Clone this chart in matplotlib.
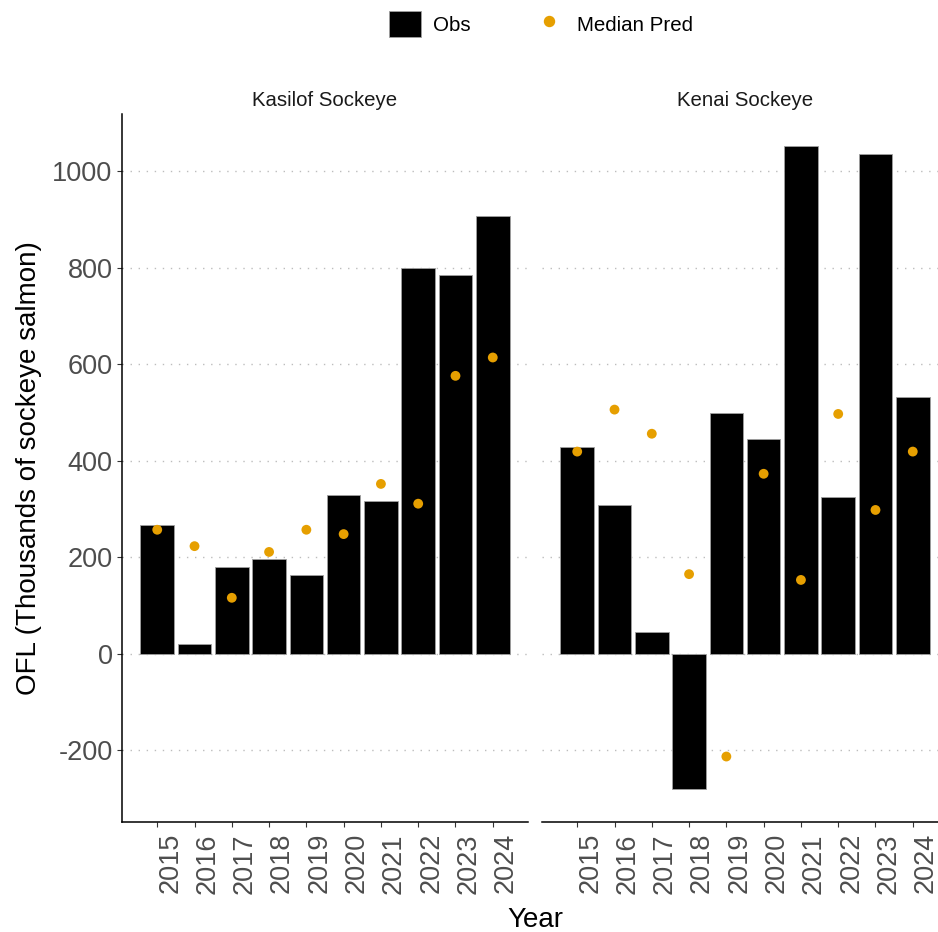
import numpy as np
import matplotlib.pyplot as plt
import matplotlib.transforms as mtransforms
from matplotlib.patches import Patch
from matplotlib.lines import Line2D

plt.rcParams['font.family'] = ['Liberation Sans', 'DejaVu Sans']
plt.rcParams['axes.unicode_minus'] = False

# data (thousands of sockeye salmon)
years = [2015, 2016, 2017, 2018, 2019, 2020, 2021, 2022, 2023, 2024]
stocks = ['Kasilof Sockeye', 'Kenai Sockeye']
kasilof_obs = [266, 21, 179, 196, 163, 328, 317, 799, 786, 907]
kasilof_pred = [257, 223, 116, 211, 257, 248, 352, 311, 576, 614]
kenai_obs = [429, 308, 46, -281, 499, 445, 1052, 324, 1035, 533]
kenai_pred = [419, 506, 456, 165, -213, 373, 153, 497, 298, 419]
y_breaks = [-200, 0, 200, 400, 600, 800, 1000]

obs = [kasilof_obs, kenai_obs]
pred = [kasilof_pred, kenai_pred]

bar_w = 0.9
pred_col = '#E69F00'
tick_col = '#4D4D4D'

fig = plt.figure(figsize=(9.38, 9.32), dpi=100)
W, H = 938, 932
ax_w = 406 / W
ax_b = 1 - 821.5 / H
ax_h = (821.5 - 114) / H
lefts = [122 / W, 542 / W]

# shared limits, ggplot-like 5% expansion
all_vals = kasilof_obs + kasilof_pred + kenai_obs + kenai_pred + [0]
ylo, yhi = min(all_vals), max(all_vals)
ypad = 0.05 * (yhi - ylo)
xlo, xhi = min(years) - bar_w / 2, max(years) + bar_w / 2
xpad = 0.05 * (xhi - xlo)

offset = mtransforms.ScaledTranslation(-3 / 100, 0, fig.dpi_scale_trans)

for i, name in enumerate(stocks):
    ax = fig.add_axes([lefts[i], ax_b, ax_w, ax_h])
    ax.bar(years, obs[i], width=bar_w, color='black', edgecolor='#A0A0A0',
           linewidth=0.6, zorder=2)
    ax.scatter(years, pred[i], s=50, color=pred_col, edgecolors='none', zorder=3)

    ax.set_xlim(xlo - xpad, xhi + xpad)
    ax.set_ylim(ylo - ypad, yhi + ypad)
    ax.set_yticks(y_breaks)
    ax.set_xticks(years)
    ax.set_xticklabels([str(y) for y in years], rotation=90, ha='left', va='top')
    for lab in ax.get_xticklabels():
        lab.set_transform(lab.get_transform() + offset)

    ax.grid(axis='y', linestyle=(0, (1, 4.8)), color='#BDBDBD', linewidth=1.0)
    ax.set_axisbelow(True)

    for s in ['top', 'right']:
        ax.spines[s].set_visible(False)
    ax.spines['bottom'].set_linewidth(1.1)
    ax.spines['left'].set_linewidth(1.1)

    ax.tick_params(axis='both', colors='#333333', labelcolor=tick_col,
                   labelsize=19.5, length=3.8, width=0.8)
    ax.tick_params(axis='x', pad=4.5)
    ax.tick_params(axis='y', pad=3)

    ax.set_title(name, fontsize=14.7, color='#1A1A1A', pad=6)

    if i == 0:
        ax.set_ylabel('OFL (Thousands of sockeye salmon)', fontsize=20, color='black')
        ax.yaxis.set_label_coords(-0.197, 0.5)
    else:
        ax.spines['left'].set_visible(False)
        ax.tick_params(axis='y', left=False, labelleft=False)

fig.text(535.5 / W, 1 - 927 / H, 'Year', ha='center', va='baseline', fontsize=20)

handles = [Patch(facecolor='black', edgecolor='#A0A0A0', linewidth=0.6, label='Obs'),
           Line2D([], [], marker='o', linestyle='none', color=pred_col,
                  markersize=7.2, label='Median Pred')]
fig.legend(handles=handles, ncol=2, loc='center', bbox_to_anchor=(541 / W, 1 - 24 / H),
           frameon=False, fontsize=14.8, handlelength=1.55, handleheight=1.55,
           handletextpad=0.6, columnspacing=3.0, borderaxespad=0)

fig.savefig('out.png', dpi=100)
